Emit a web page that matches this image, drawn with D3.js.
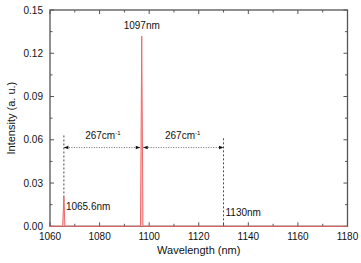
<!DOCTYPE html>
<html><head><meta charset="utf-8">
<script src="https://cdn.jsdelivr.net/npm/d3@7"></script>
<style>body{margin:0;background:#fff}text{font-family:"Liberation Sans",Arial,sans-serif}</style>
</head><body><svg id="c" width="361" height="263"></svg>
<script>
const wavelengths = [1060, 1065.1, 1065.6, 1066.0, 1096.5, 1097.0, 1097.5, 1180];
const intensities = [0, 0, 0.0205, 0, 0, 0.132, 0, 0];
const xTicks = [1060, 1080, 1100, 1120, 1140, 1160, 1180];
const yTicks = [0.00, 0.03, 0.06, 0.09, 0.12, 0.15];
const peakLabels = [{x:1097, y:0.132, t:"1097nm"}, {x:1065.6, y:0.0205, t:"1065.6nm"}, {x:1130, y:0.0, t:"1130nm"}];
const markerLines = [{x:1065.6, y:0.063}, {x:1130, y:0.061}];
const spans = [{a:1065.6, b:1097, t:"267"}, {a:1097, b:1130, t:"267"}];
const spanY = 0.0546;

const svg = d3.select("#c");
const L=50, R=347.5, T=10, B=226.3;
const x = d3.scaleLinear().domain([1060,1180]).range([L,R]);
const y = d3.scaleLinear().domain([0,0.15]).range([B,T]);
const axc = "#555";

svg.append("rect").attr("x",L).attr("y",T).attr("width",R-L).attr("height",B-T).attr("fill","none").attr("stroke",axc).attr("stroke-width",1.3);

const xMinor = d3.range(1070,1180,20);
const yMinor = d3.range(0.015,0.15,0.03);
const g = svg.append("g").attr("stroke",axc).attr("stroke-width",1);
xTicks.concat(xMinor).forEach(v=>{
  const len = xTicks.includes(v)?4:2.5;
  g.append("line").attr("x1",x(v)).attr("x2",x(v)).attr("y1",B).attr("y2",B-len);
  g.append("line").attr("x1",x(v)).attr("x2",x(v)).attr("y1",T).attr("y2",T+len);
});
yTicks.concat(yMinor).forEach(v=>{
  const len = yTicks.some(t=>Math.abs(t-v)<1e-9)?4:2.5;
  g.append("line").attr("y1",y(v)).attr("y2",y(v)).attr("x1",L).attr("x2",L+len);
  g.append("line").attr("y1",y(v)).attr("y2",y(v)).attr("x1",R).attr("x2",R-len);
});

svg.append("g").selectAll("text").data(xTicks).join("text")
  .attr("x",d=>x(d)).attr("y",B+14).attr("text-anchor","middle").attr("font-size",10).attr("fill","#111").text(d=>d);
svg.append("g").selectAll("text").data(yTicks).join("text")
  .attr("x",L-7).attr("y",d=>y(d)+3.5).attr("text-anchor","end").attr("font-size",10).attr("fill","#111").text(d=>d.toFixed(2));

svg.append("text").attr("x",(L+R)/2).attr("y",254).attr("text-anchor","middle").attr("font-size",11).attr("fill","#111").text("Wavelength (nm)");
svg.append("text").attr("transform",`translate(15,${(T+B)/2}) rotate(-90)`).attr("text-anchor","middle").attr("font-size",11).attr("fill","#111").text("Intensity (a. u.)");

markerLines.forEach(m=>{
  svg.append("line").attr("x1",x(m.x)).attr("x2",x(m.x)).attr("y1",y(m.y)).attr("y2",B)
    .attr("stroke","#333").attr("stroke-width",0.9).attr("stroke-dasharray","2,2");
});

const data = wavelengths.map((w,i)=>[w,intensities[i]]);
svg.append("path").datum(data).attr("d",d3.line().x(d=>x(d[0])).y(d=>y(d[1])))
  .attr("fill","#fbc4c4").attr("stroke","#f06a6a").attr("stroke-width",1);

const defs = svg.append("defs");
defs.append("marker").attr("id","ah").attr("viewBox","0 0 10 10").attr("refX",10).attr("refY",5)
  .attr("markerWidth",6).attr("markerHeight",5).attr("orient","auto-start-reverse")
  .append("path").attr("d","M0,1 L10,5 L0,9 Z").attr("fill","#111");
spans.forEach((s,i)=>{
  const x1 = x(s.a)+ (i===0?0:1.5), x2 = x(s.b) - (i===0?1.5:0);
  svg.append("line").attr("x1",x1).attr("x2",x2).attr("y1",y(spanY)).attr("y2",y(spanY))
    .attr("stroke","#555").attr("stroke-width",0.9).attr("stroke-dasharray","1,1.5")
    .attr("marker-start","url(#ah)").attr("marker-end","url(#ah)");
  const t = svg.append("text").attr("x",(x(s.a)+x(s.b))/2).attr("y",y(spanY)-9).attr("text-anchor","middle").attr("font-size",10).attr("fill","#111");
  t.append("tspan").text(s.t+"cm");
  t.append("tspan").attr("dy",-4).attr("font-size",6).text("-1");
});

svg.append("text").attr("x",x(1097)).attr("y",y(0.132)-7).attr("text-anchor","middle").attr("font-size",10).attr("fill","#111").text(peakLabels[0].t);
svg.append("text").attr("x",x(1065.6)+2).attr("y",y(0.0205)+13).attr("font-size",10).attr("fill","#111").text(peakLabels[1].t);
svg.append("text").attr("x",x(1130)+2).attr("y",B-10).attr("font-size",10).attr("fill","#111").text(peakLabels[2].t);
</script></body></html>
